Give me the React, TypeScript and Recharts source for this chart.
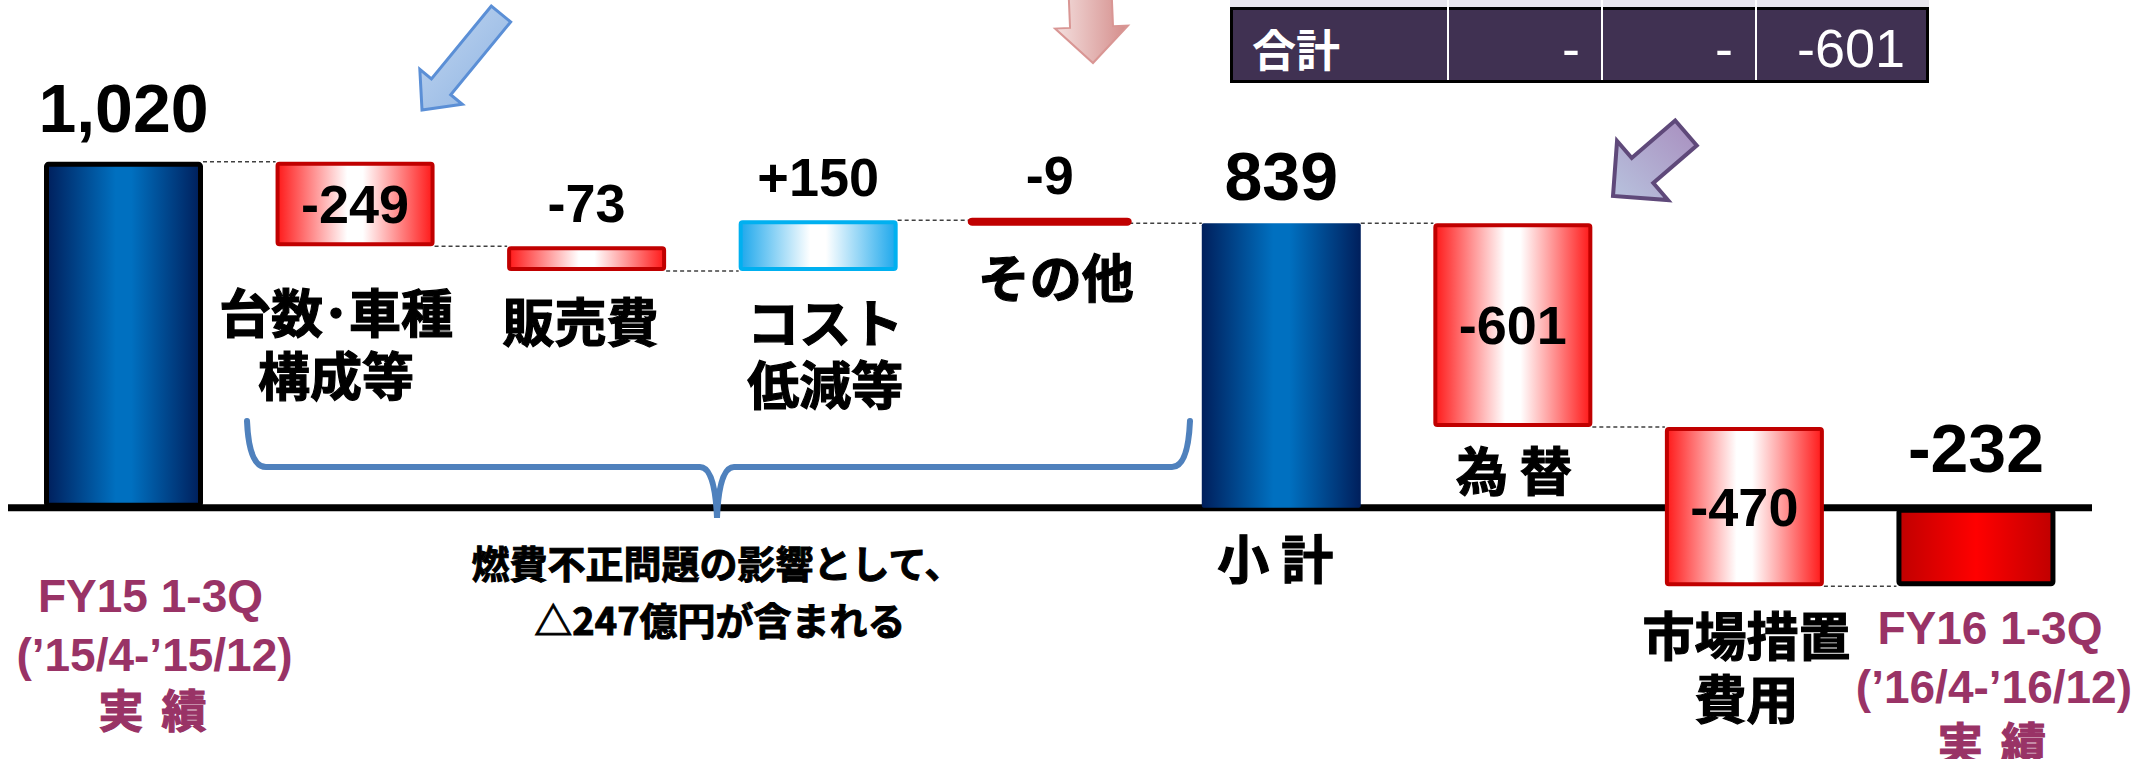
import { BarChart, Bar, XAxis, YAxis, ReferenceLine } from 'recharts'

const categories = ['FY15 1-3Q', '台数･車種構成等', '販売費', 'コスト低減等', 'その他', '小計', '為替', '市場措置費用', 'FY16 1-3Q']
const tickLines = [
  ['FY15 1-3Q', '(’15/4-’15/12)', '実 績'],
  ['台数･車種', '構成等'],
  ['販売費'],
  ['コスト', '低減等'],
  ['その他'],
  ['小 計'],
  ['為 替'],
  ['市場措置', '費用'],
  ['FY16 1-3Q', '(’16/4-’16/12)', '実 績'],
]
const values = [1020, -249, -73, 150, -9, 839, -601, -470, -232]
const isTotal = [true, false, false, false, false, true, false, false, true]

const summaryLabel = '合計'
const summaryValues = ['-', '-', '-601']
const noteLines = ['燃費不正問題の影響として、', '△247億円が含まれる']

// running totals -> range bars
let run = 0
const data = categories.map((name, i) => {
  const v = values[i]
  const prev = run
  run = isTotal[i] ? v : prev + v
  const start = isTotal[i] ? 0 : prev
  return {
    name,
    value: v,
    total: isTotal[i],
    range: [Math.min(start, run), Math.max(start, run)],
    endAtTop: run >= start,
  }
})

const fmt = (v: number, total: boolean) =>
  total ? v.toLocaleString('en-US') : v > 0 ? `+${v}` : `${v}`

const NUM_FONT = '"Liberation Sans", Arial, sans-serif'
const JP_FONT = '"Noto Sans CJK JP", "Noto Sans", sans-serif'
const PURPLE = '#993366'

const BAND = 2084 / 9
const BAR = 159

const barStyles = [
  { fill: 'url(#gBlue)', stroke: '#000', sw: 5 },
  { fill: 'url(#gRed)', stroke: '#C00000', sw: 4 },
  { fill: 'url(#gRed)', stroke: '#C00000', sw: 4 },
  { fill: 'url(#gCyan)', stroke: '#00B0F0', sw: 4 },
  { fill: '#C00000', stroke: '#C00000', sw: 5 },
  { fill: 'url(#gBlue)', stroke: 'none', sw: 0 },
  { fill: 'url(#gRed)', stroke: '#C00000', sw: 4 },
  { fill: 'url(#gRed)', stroke: '#C00000', sw: 4 },
  { fill: 'url(#gDark)', stroke: '#000', sw: 5 },
]
// value label: 'in' = centered inside, otherwise px above bar top
const valuePos: (number | 'in')[] = [30, 'in', 24, 24, 26, 23, 'in', 'in', 36]
const valueSize = [68, 54, 54, 54, 54, 68, 54, 54, 68]
// category label: centre of first line below bar bottom, line step, x shift
const catDy = [88, 64, 48, 49, 52, 49, 42, 47, 42]
const catStep = [0, 63, 0, 62, 0, 0, 0, 63, 0]
const catDx = [27, -19, -6, 7, 6, -6, 1, 2, 14]
const fyStep = [0, 59, 113]

function WaterfallBar(props: any) {
  const { x, y, width, height, index, payload } = props
  const top = Math.min(y, y + height)
  const bottom = Math.max(y, y + height)
  const st = barStyles[index]
  const inset = bottom - top > st.sw * 2 ? st.sw / 2 : 0
  const cx = x + width / 2
  const lines = tickLines[index]
  const isFY = index === 0 || index === categories.length - 1
  const vp = valuePos[index]
  const vs = valueSize[index]
  const connY = payload.endAtTop ? top : bottom
  return (
    <g>
      {index < categories.length - 1 && (
        <line x1={x + width} x2={x + width + (BAND - BAR)} y1={connY} y2={connY}
          stroke="#404040" strokeWidth={1.5} strokeDasharray="4 3" />
      )}
      <rect x={x + inset} y={top + inset} width={width - inset * 2}
        height={Math.max(bottom - top - inset * 2, 1)} rx={2}
        fill={st.fill} stroke={st.stroke} strokeWidth={st.sw} />
      <text x={cx} y={vp === 'in' ? (top + bottom) / 2 + vs * 0.358 : top - vp}
        textAnchor="middle" fontFamily={NUM_FONT} fontWeight={700} fontSize={vs} fill="#000">
        {fmt(payload.value, payload.total)}
      </text>
      {lines.map((ln, k) => {
        const latin = isFY && k < 2
        const ly = bottom + catDy[index] + (isFY ? fyStep[k] : k * catStep[index])
        const col = isFY ? PURPLE : '#000'
        return (
          <text key={k} x={cx + catDx[index] + (isFY && k > 0 ? 4 : 0)} y={ly} textAnchor="middle" dominantBaseline="central"
            fontFamily={latin ? NUM_FONT : JP_FONT} fontWeight={700}
            fontSize={latin ? 46 : isFY ? 45 : 52} fill={col}
            stroke={latin ? 'none' : col} strokeWidth={latin ? 0 : 1.2}
            letterSpacing={isFY && !latin ? 4 : 0}>
            {ln}
          </text>
        )
      })}
    </g>
  )
}

function arrowPts(tx: number, ty: number, hx: number, hy: number, shaft: number, headW: number, headL: number) {
  const dx = hx - tx, dy = hy - ty
  const len = Math.hypot(dx, dy)
  const ux = dx / len, uy = dy / len
  const px = -uy, py = ux
  const bx = hx - ux * headL, by = hy - uy * headL
  const p = (ax: number, ay: number, s: number) => `${ax + px * s},${ay + py * s}`
  return [p(tx, ty, shaft / 2), p(bx, by, shaft / 2), p(bx, by, headW / 2), `${hx},${hy}`,
    p(bx, by, -headW / 2), p(bx, by, -shaft / 2), p(tx, ty, -shaft / 2)].join(' ')
}

function Overlay() {
  const seps = [1448, 1602, 1756]
  const valueRight = [1580, 1733, 1905]
  return (
    <svg width={2149} height={759} style={{ position: 'absolute', left: 0, top: 0, pointerEvents: 'none' }}>
      <defs>
        <linearGradient id="gBlue" x1="0" y1="0" x2="1" y2="0">
          <stop offset="0" stopColor="#001F5C" />
          <stop offset="0.45" stopColor="#0070C0" />
          <stop offset="0.55" stopColor="#0070C0" />
          <stop offset="1" stopColor="#001F5C" />
        </linearGradient>
        <linearGradient id="gRed" x1="0" y1="0" x2="1" y2="0">
          <stop offset="0" stopColor="#FF1A1A" />
          <stop offset="0.45" stopColor="#FFFFFF" />
          <stop offset="0.55" stopColor="#FFFFFF" />
          <stop offset="1" stopColor="#FF1A1A" />
        </linearGradient>
        <linearGradient id="gCyan" x1="0" y1="0" x2="1" y2="0">
          <stop offset="0" stopColor="#1EA8EC" />
          <stop offset="0.45" stopColor="#FFFFFF" />
          <stop offset="0.55" stopColor="#FFFFFF" />
          <stop offset="1" stopColor="#1EA8EC" />
        </linearGradient>
        <linearGradient id="gDark" x1="0" y1="0" x2="1" y2="0">
          <stop offset="0" stopColor="#C00000" />
          <stop offset="0.5" stopColor="#FF0000" />
          <stop offset="1" stopColor="#C00000" />
        </linearGradient>
        <linearGradient id="gArrowBlue" x1="0" y1="0" x2="1" y2="1">
          <stop offset="0" stopColor="#C2D6F0" />
          <stop offset="1" stopColor="#8DB3E2" />
        </linearGradient>
        <linearGradient id="gArrowPink" x1="0" y1="0" x2="1" y2="0">
          <stop offset="0" stopColor="#F4E0DF" />
          <stop offset="1" stopColor="#D48C8A" />
        </linearGradient>
        <linearGradient id="gArrowPurple" x1="0" y1="1" x2="1" y2="0">
          <stop offset="0" stopColor="#B8C3DE" />
          <stop offset="1" stopColor="#A88DBE" />
        </linearGradient>
      </defs>

      {/* arrows */}
      <polygon points={arrowPts(501, 14, 422, 110, 25, 55, 30)} fill="url(#gArrowBlue)" stroke="#5B8FD6" strokeWidth={3} strokeLinejoin="miter" />
      <polygon points={arrowPts(1090, -10, 1093, 63, 43, 73, 36)} fill="url(#gArrowPink)" stroke="#D99694" strokeWidth={2} />
      <polygon points={arrowPts(1686, 133, 1613, 196, 33, 78, 39)} fill="url(#gArrowPurple)" stroke="#5F497A" strokeWidth={4} />

      {/* summary strip */}
      <rect x={1230} y={0} width={699} height={7} fill="#E8E6EE" />
      <rect x={1231.5} y={8.5} width={696} height={73} fill="#403152" stroke="#000" strokeWidth={3} />
      {seps.map((sx) => <line key={sx} x1={sx} x2={sx} y1={0} y2={80} stroke="#fff" strokeWidth={2} />)}
      <text x={1252} y={48} dominantBaseline="central" fontFamily={JP_FONT} fontWeight={700} fontSize={44} fill="#fff">{summaryLabel}</text>
      {summaryValues.map((v, i) => (
        <text key={i} x={valueRight[i]} y={67} textAnchor="end" fontFamily={NUM_FONT} fontSize={54} fill="#fff">{v}</text>
      ))}

      {/* brace */}
      <path d="M247,421 Q249,467 266,467 L700,467 Q715,467 717,518 Q719,467 734,467 L1172,467 Q1188,467 1190,421"
        fill="none" stroke="#4F81BD" strokeWidth={6} strokeLinecap="round" />
      {noteLines.map((t, i) => (
        <text key={i} x={[717, 720][i]} y={[561, 618][i]} textAnchor="middle" dominantBaseline="central"
          fontFamily={JP_FONT} fontWeight={700} fontSize={38} fill="#000" stroke="#000" strokeWidth={1}>{t}</text>
      ))}
    </svg>
  )
}

export default function App() {
  return (
    <div style={{ position: 'absolute', left: 0, top: 0, width: 2149, height: 759, background: '#fff' }}>
      <BarChart width={2149} height={759} data={data} margin={{ top: 33, right: 57, bottom: 14, left: 8 }}>
        <XAxis dataKey="name" hide />
        <YAxis hide domain={[-700, 1400]} />
        <ReferenceLine y={0} stroke="#000" strokeWidth={7} zIndex={0} />
        <Bar dataKey="range" barSize={BAR} isAnimationActive={false} shape={<WaterfallBar />} />
      </BarChart>
      <Overlay />
    </div>
  )
}
